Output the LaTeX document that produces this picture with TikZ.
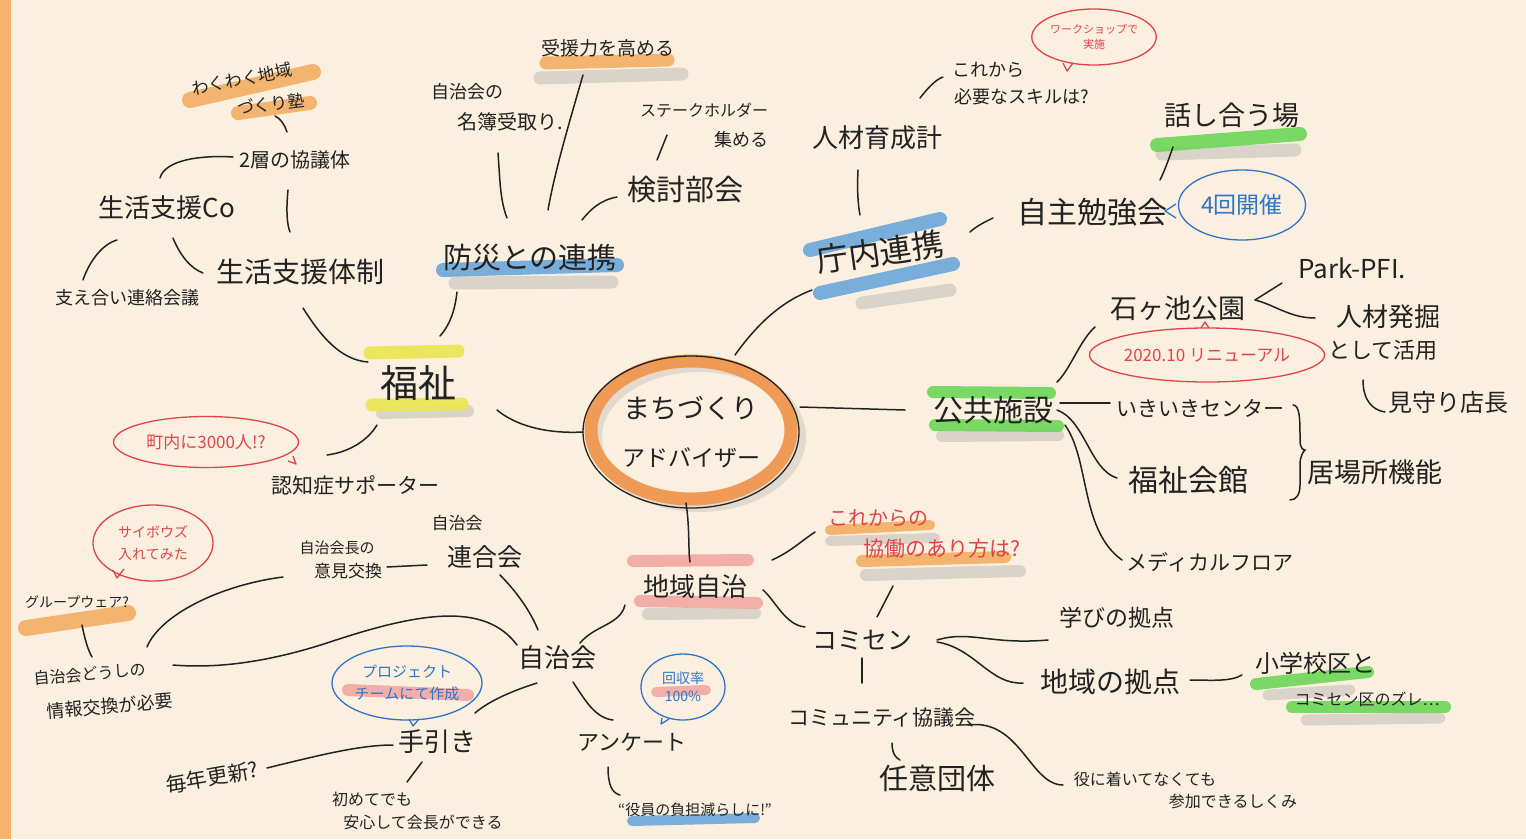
\documentclass[tikz,border=0pt]{standalone}
\usepackage{fontspec}
\setmainfont{Noto Sans CJK JP}
\usetikzlibrary{calc,shapes.geometric}
\definecolor{bg}{HTML}{FBEFE0}
\definecolor{stripe}{HTML}{F7B36C}
\definecolor{ink}{HTML}{222222}
\definecolor{hlor}{HTML}{F2AE63}
\definecolor{ringor}{HTML}{EF9A55}
\definecolor{hlye}{HTML}{EBE650}
\definecolor{hlbl}{HTML}{6BA6DA}
\definecolor{hlgr}{HTML}{6CD657}
\definecolor{hlpk}{HTML}{F2A9A2}
\definecolor{shad}{HTML}{D2CCC4}
\definecolor{redink}{HTML}{E0444A}
\definecolor{blueink}{HTML}{2F74C8}
\newcommand{\hfs}[1]{\fontsize{#1}{#1}\selectfont}
\begin{document}
\begin{tikzpicture}[x=1pt,y=-1pt,
  lb/.style={inner sep=0pt, font=\hfs{#1}, text=ink},
  conn/.style={line width=1.5pt, draw=ink, line cap=round},
  hl/.style={line width=#1, line cap=round, opacity=0.9},
  sh/.style={line width=#1, line cap=round, draw=shad, opacity=0.8},
  bub/.style={ellipse, draw=#1, text=#1, line width=1.3pt, inner sep=0pt, align=center},
  tail/.style={draw=#1, line width=1.3pt, line join=round}]
% background
\fill[bg] (0,0) rectangle (1526,839);
\fill[stripe] (0,0) rectangle (11,839);
\useasboundingbox (0,0) rectangle (1526,839);

% ---------- highlights ----------
\draw[hl=16pt, hlor] (190,100) -- (313,72);
\draw[hl=14pt, hlor] (238,113) -- (310,103);
\draw[hl=13pt, hlye] (370,353) -- (458,351);
\draw[sh=12pt] (382,413) -- (468,411);
\draw[hl=13pt, hlye] (372,405) -- (462,404);
\draw[sh=13pt] (455,283) -- (612,282);
\draw[hl=14pt, hlbl] (443,270) -- (617,265);
\draw[sh=13pt] (540,78) -- (682,74);
\draw[hl=13pt, hlor] (546,63) -- (668,60);
\draw[hl=14pt, hlbl] (810,250) -- (940,219);
\draw[sh=13pt] (862,303) -- (950,290);
\draw[hl=14pt, hlbl] (820,293) -- (953,264);
\draw[sh=13pt] (1162,154) -- (1295,150);
\draw[hl=14pt, hlgr] (1157,145) -- (1300,134);
\draw[hl=12pt, hlgr] (933,392) -- (1050,393);
\draw[sh=12pt] (942,436) -- (1058,435);
\draw[hl=12pt, hlgr] (935,425) -- (1058,426);
\draw[hl=12pt, hlpk] (633,561) -- (748,560);
\draw[sh=12pt] (648,614) -- (755,613);
\draw[hl=12pt, hlpk] (640,601) -- (757,603);
\draw[sh=10pt] (830,541) -- (935,538);
\draw[hl=10pt, hlor] (830,530) -- (930,525);
\draw[sh=12pt] (866,575) -- (1020,571);
\draw[hl=12pt, hlor] (862,561) -- (1005,557);
\draw[sh=11pt] (1268,695) -- (1350,690);
\draw[hl=12pt, hlgr] (1256,684) -- (1368,672);
\draw[sh=11pt] (1306,720) -- (1440,718);
\draw[hl=12pt, hlgr] (1292,707) -- (1445,707);
\draw[hl=16pt, hlor] (26,628) -- (128,613);
\draw[hl=12pt, hlpk] (348,690) -- (468,695);
\draw[hl=10pt, hlpk] (656,692) -- (706,690);
\draw[hl=10pt, hlbl] (632,821) -- (755,818);

% ---------- center ----------
\draw[shad, line width=10pt, opacity=0.6] (699,437) ellipse [x radius=102pt, y radius=70pt];
\draw[ringor, line width=13pt] (691,430) ellipse [x radius=100pt, y radius=69pt];
\node[ellipse, draw=ink, line width=1.3pt, minimum width=216pt, minimum height=152pt,
  inner sep=0pt, align=center, text=ink, font={\fontsize{27}{48}\selectfont}] (c) at (691,432)
  {まちづくり\\{\fontsize{23}{48}\selectfont アドバイザー}};

% ---------- nodes ----------
\node[lb=38] (F) at (418,383) {福祉};
\node[lb=28] (SSB) at (300,272) {生活支援体制};
\node[lb=26] (SSC) at (167,208) {生活支援Co};
\node[lb=20] (NSK) at (295,160) {2層の協議体};
\node[lb=17,rotate=11] (wk1) at (242,79) {わくわく地域};
\node[lb=17,rotate=7] (wk2) at (271,104) {づくり塾};
\node[lb=18] (SAR) at (127,298) {支え合い連絡会議};
\node[lb=21] (NCS) at (355,485) {認知症サポーター};
\node[bub=redink, minimum width=185pt, minimum height=51pt, font=\hfs{17}] (B1) at (206,442) {町内に3000人!?};
\node[lb=29] (BS) at (530,258) {防災との連携};
\node[lb=19] (JK) at (608,48) {受援力を高める};
\node[lb=18] (MB1) at (467,92) {自治会の};
\node[lb=20] (MB2) at (510,122) {名簿受取り.};
\node[lb=16] (SH1) at (704,110) {ステークホルダー};
\node[lb=18] (SH2) at (741,140) {集める};
\node[lb=29] (KT) at (685,190) {検討部会};
\node[lb=32,rotate=8] (CN) at (880,252) {庁内連携};
\node[lb=26] (JZ) at (877,138) {人材育成計};
\node[lb=18] (KR1) at (988,70) {これから};
\node[lb=18] (KR2) at (1022,97) {必要なスキルは?};
\node[bub=redink, minimum width=114pt, minimum height=56pt, font={\fontsize{11}{15}\selectfont}] (WS) at (1094,37) {ワークショップで\\実施};
\node[lb=30] (JB) at (1092,212) {自主勉強会};
\node[bub=blueink, minimum width=127pt, minimum height=70pt, font=\hfs{23}] (B4) at (1242,205) {4回開催};
\node[lb=27] (HA) at (1232,115) {話し合う場};
\node[lb=30] (KK) at (993,410) {公共施設};
\node[lb=27] (IK) at (1178,308) {石ヶ池公園};
\node[lb=26] (PF) at (1352,268) {Park-PFI.};
\node[lb=26] (JH1) at (1388,317) {人材発掘};
\node[lb=22] (JH2) at (1383,350) {として活用};
\node[lb=24] (MM) at (1448,402) {見守り店長};
\node[bub=redink, minimum width=212pt, minimum height=54pt, font=\hfs{17}] (RN) at (1207,355) {2020.10 リニューアル};
\node[lb=21] (IC) at (1200,408) {いきいきセンター};
\node[lb=30] (FK) at (1188,480) {福祉会館};
\node[lb=27] (IB) at (1375,472) {居場所機能};
\node[lb=21] (MF) at (1210,562) {メディカルフロア};
\node[lb=26] (CJ) at (695,587) {地域自治};
\node[lb=20, text=redink] (KM1) at (878,518) {これからの};
\node[lb=21, text=redink] (KM2) at (942,549) {協働のあり方は?};
\node[lb=25] (CS) at (862,640) {コミセン};
\node[lb=23] (MK) at (1117,618) {学びの拠点};
\node[lb=28] (CK) at (1110,682) {地域の拠点};
\node[lb=24] (SG1) at (1315,663) {小学校区と};
\node[lb=16] (SG2) at (1367,699) {コミセン区のズレ…};
\node[lb=21] (CY) at (882,718) {コミュニティ協議会};
\node[lb=29] (NI) at (937,778) {任意団体};
\node[lb=16] (YK1) at (1145,779) {役に着いてなくても};
\node[lb=16] (YK2) at (1233,801) {参加できるしくみ};
\node[lb=26] (JC) at (557,658) {自治会};
\node[lb=17] (RG1) at (457,523) {自治会};
\node[lb=25] (RG2) at (485,557) {連合会};
\node[lb=15] (IE1) at (337,548) {自治会長の};
\node[lb=17] (IE2) at (348,571) {意見交換};
\node[lb=16,rotate=5] (JD1) at (90,674) {自治会どうしの};
\node[lb=18,rotate=5] (JD2) at (110,706) {情報交換が必要};
\node[lb=14] (GW) at (77,602) {グループウェア?};
\node[bub=redink, minimum width=120pt, minimum height=76pt, font={\fontsize{14}{22}\selectfont}] (SB) at (153,543) {サイボウズ\\入れてみた};
\node[lb=26] (TB) at (437,742) {手引き};
\node[bub=blueink, minimum width=150pt, minimum height=74pt, font={\fontsize{15}{22}\selectfont}] (PJ) at (407,683) {プロジェクト\\チームにて作成};
\node[lb=21, rotate=10] (MN) at (212,777) {毎年更新?};
\node[lb=16] (HJ1) at (372,799) {初めてでも};
\node[lb=16] (HJ2) at (423,822) {安心して会長ができる};
\node[lb=22] (AK) at (632,742) {アンケート};
\node[bub=blueink, minimum width=84pt, minimum height=66pt, font={\fontsize{14}{18}\selectfont}] (KS) at (683,687) {回収率\\100\%};
\node[lb=15] (YF) at (695,810) {“役員の負担減らしに!”};

% ---------- bubble tails ----------
\draw[tail=redink] (1063,63) -- (1067,71) -- (1073,63);
\draw[tail=redink] (288,461) -- (296,464) -- (293,456);
\draw[tail=redink] (113,570) -- (117,578) -- (124,569);
\draw[tail=redink] (1201,328) -- (1205,322) -- (1209,328);
\draw[tail=blueink] (409,719) -- (413,726) -- (419,719);
\draw[tail=blueink] (662,718) -- (661,724) -- (669,719);
\draw[tail=blueink] (1176,204) -- (1165,211) -- (1176,218);

% ---------- connectors ----------
\draw[conn] ($(c)+(-108,0)$) .. controls (545,434) and (515,425) .. ($(F)+(79,27)$);
\draw[conn] ($(c)+(44,-77)$) .. controls (760,320) and (785,300) .. ($(CN)+(-68,38)$);
\draw[conn] ($(c)+(109,-25)$) -- ($(KK)+(-88,0)$);
\draw[conn] ($(c)+(-5,71)$) .. controls (690,530) and (688,550) .. ($(CJ)+(-5,-25)$);
\draw[conn] ($(SSB)+(3,36)$) .. controls (320,335) and (340,360) .. ($(F)+(-50,-21)$);
\draw[conn] ($(BS)+(-73,34)$) .. controls (455,310) and (450,325) .. ($(F)+(22,-47)$);
\draw[conn] ($(NCS)+(-28,-30)$) .. controls (350,452) and (368,440) .. ($(F)+(-41,42)$);
\draw[conn] ($(NSK)+(-62,-3)$) .. controls (200,155) and (165,160) .. ($(SSC)+(-7,-30)$);
\draw[conn] ($(NSK)+(-7,30)$) .. controls (286,210) and (287,225) .. ($(SSB)+(-10,-40)$);
\draw[conn] ($(wk2)+(4,12)$) .. controls (280,118) and (285,125) .. ($(NSK)+(-8,-28)$);
\draw[conn] ($(SSC)+(-50,32)$) .. controls (100,245) and (88,265) .. ($(SAR)+(-44,-18)$);
\draw[conn] ($(SSC)+(6,30)$) .. controls (180,255) and (190,268) .. ($(SSB)+(-97,1)$);
\draw[conn] ($(MB2)+(-12,31)$) .. controls (500,180) and (500,200) .. ($(BS)+(-23,-40)$);
\draw[conn] ($(JK)+(-25,27)$) .. controls (570,120) and (555,170) .. ($(BS)+(18,-48)$);
\draw[conn] ($(KT)+(-68,7)$) .. controls (600,200) and (590,210) .. ($(BS)+(52,-38)$);
\draw[conn] ($(SH1)+(-37,25)$) -- ($(KT)+(-28,-30)$);
\draw[conn] ($(JZ)+(-19,32)$) .. controls (857,190) and (858,205) .. ($(CN)+(-20,-37)$);
\draw[conn] ($(JB)+(-99,6)$) .. controls (985,222) and (978,225) .. ($(CN)+(90,-20)$);
\draw[conn] ($(JZ)+(43,-40)$) .. controls (928,88) and (935,80) .. ($(KR1)+(-45,7)$);
\draw[conn] ($(JB)+(68,-32)$) .. controls (1166,168) and (1170,155) .. ($(HA)+(-59,32)$);
\draw[conn] ($(KK)+(64,-28)$) .. controls (1070,370) and (1080,340) .. ($(IK)+(-83,19)$);
\draw[conn] ($(KK)+(67,-7)$) -- ($(IC)+(-90,-5)$);
\draw[conn] ($(KK)+(64,0)$) .. controls (1085,420) and (1090,470) .. ($(FK)+(-71,-2)$);
\draw[conn] ($(KK)+(72,15)$) .. controls (1090,460) and (1080,530) .. ($(MF)+(-88,-2)$);
\draw[conn] ($(PF)+(-70,15)$) -- ($(IK)+(77,-8)$);
\draw[conn] ($(JH1)+(-73,1)$) .. controls (1290,318) and (1275,305) .. ($(IK)+(77,-8)$);
\draw[conn] ($(JH2)+(-20,30)$) .. controls (1363,400) and (1372,410) .. ($(MM)+(-63,10)$);
\draw[conn] ($(IC)+(93,-3)$) .. controls (1300,405) and (1300,420) .. (1300,440)
   .. controls (1300,448) and (1303,450) .. ($(IB)+(-70,-22)$)
   .. controls (1303,452) and (1300,456) .. (1300,465)
   -- (1300,485) .. controls (1300,495) and (1296,500) .. ($(FK)+(102,20)$);
\draw[conn] ($(CJ)+(-70,18)$) .. controls (620,625) and (595,625) .. ($(JC)+(23,-15)$);
\draw[conn] ($(CJ)+(77,-27)$) .. controls (790,552) and (800,542) .. ($(KM1)+(-63,14)$);
\draw[conn] ($(CJ)+(68,3)$) .. controls (775,600) and (785,625) .. ($(CS)+(-57,-13)$);
\draw[conn] ($(KM2)+(-49,37)$) -- ($(CS)+(15,-23)$);
\draw[conn] ($(CS)+(75,0)$) .. controls (970,630) and (990,645) .. ($(MK)+(-69,22)$);
\draw[conn] ($(CS)+(75,2)$) .. controls (975,648) and (990,685) .. ($(CK)+(-87,1)$);
\draw[conn] ($(CK)+(80,-2)$) .. controls (1210,680) and (1230,682) .. ($(SG1)+(-73,12)$);
\draw[conn] ($(CS)+(0,18)$) -- ($(CY)+(-20,-35)$);
\draw[conn] ($(CY)+(10,25)$) .. controls (892,752) and (895,758) .. ($(NI)+(-37,-18)$);
\draw[conn] ($(CY)+(86,7)$) .. controls (1020,718) and (1030,785) .. ($(YK1)+(-82,6)$);
\draw[conn] ($(RG2)+(15,18)$) .. controls (515,590) and (530,610) .. ($(JC)+(-19,-28)$);
\draw[conn] ($(IE2)+(39,-4)$) -- ($(RG2)+(-58,8)$);
\draw[conn] ($(IE2)+(-65,6)$) .. controls (220,585) and (160,615) .. ($(JD2)+(37,-59)$);
\draw[conn] ($(JC)+(-40,-13)$) .. controls (485,602) and (420,612) .. (330,642)
   .. controls (260,665) and (210,668) .. ($(JD2)+(63,-41)$);
\draw[conn] ($(GW)+(5,23)$) .. controls (85,640) and (88,650) .. ($(JD1)+(2,-17)$);
\draw[conn] ($(TB)+(38,-29)$) .. controls (490,700) and (515,690) .. ($(JC)+(-20,25)$);
\draw[conn] ($(MN)+(55,-9)$) .. controls (320,755) and (360,745) .. ($(TB)+(-44,3)$);
\draw[conn] ($(TB)+(-15,20)$) -- ($(HJ1)+(35,-17)$);
\draw[conn] ($(JC)+(16,24)$) .. controls (585,700) and (595,718) .. ($(AK)+(-19,-22)$);
\draw[conn] ($(AK)+(-24,25)$) .. controls (608,785) and (612,793) .. ($(YF)+(-75,-15)$);
\end{tikzpicture}
\end{document}
